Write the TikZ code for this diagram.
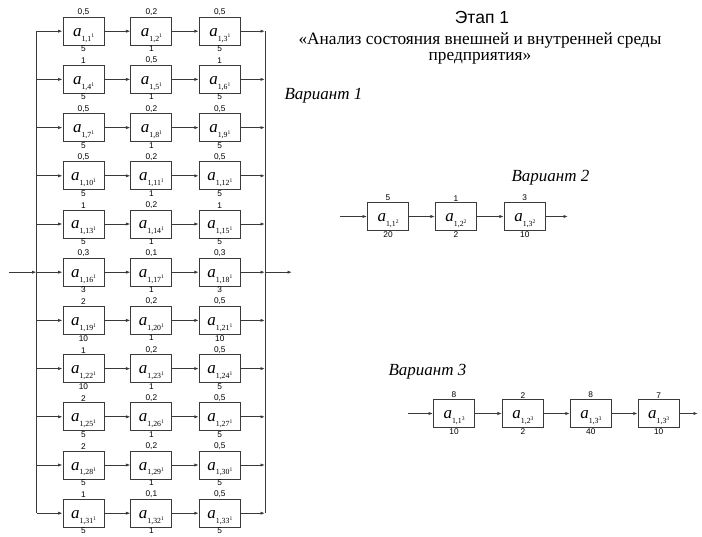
\documentclass[tikz,border=0pt]{standalone}
\usepackage{fontspec}
\setmainfont{Liberation Serif}
\setsansfont{Liberation Sans}
\usetikzlibrary{arrows.meta,positioning}
\definecolor{wire}{HTML}{3A3A3A}
\newcommand{\elem}[2]{\textit{a}\raisebox{-5pt}{\fontsize{7.8}{8}\selectfont #1\raisebox{3.2pt}{\fontsize{5.5}{5.5}\selectfont #2}}}

\begin{document}
\begin{tikzpicture}[x=1pt,y=-1pt,>={Latex[length=4.5pt,width=3.2pt]},
    blk/.style={draw=wire,line width=0.9pt,minimum width=41pt,minimum height=28pt,inner sep=0pt,text height=12pt,text depth=2pt,font=\fontsize{17}{18}\selectfont},
    num/.style={font=\sffamily\fontsize{8.3}{8.5}\selectfont,inner sep=0.2pt},
    wr/.style={draw=wire,line width=0.8pt}]
  \useasboundingbox (0,0) rectangle (702,537);
  % titles
  \node[font=\sffamily\fontsize{17.5}{18}\selectfont] (stage) at (482,17) {Этап 1};
  \node[font=\fontsize{17.3}{16.5}\selectfont,align=center] (aim) at (480,48.5) {«Анализ состояния внешней и внутренней среды\\предприятия»};
  \node[font=\itshape\fontsize{17}{17}\selectfont,anchor=west] (var1) at (281,96) {Вариант 1};
  \node[font=\itshape\fontsize{17}{17}\selectfont,anchor=west] (var2) at (508,178) {Вариант 2};
  \node[font=\itshape\fontsize{17}{17}\selectfont,anchor=west] (var3) at (385,372) {Вариант 3};

  % variant 1
  \coordinate (lbus) at (36.5,0);
  \coordinate (rbus) at (265,0);
  \foreach \r/\ta/\ba/\tb/\bb/\tc/\bc in {1/{0,5}/5/{0,2}/1/{0,5}/5, 2/1/5/{0,5}/1/1/5,
      3/{0,5}/5/{0,2}/1/{0,5}/5, 4/{0,5}/5/{0,2}/1/{0,5}/5, 5/1/5/{0,2}/1/1/5,
      6/{0,3}/3/{0,1}/1/{0,3}/3, 7/2/10/{0,2}/1/{0,5}/10, 8/1/10/{0,2}/1/{0,5}/5,
      9/2/5/{0,2}/1/{0,5}/5, 10/2/5/{0,2}/1/{0,5}/5, 11/1/5/{0,1}/1/{0,5}/5} {
    \pgfmathsetmacro{\yy}{31.2+(\r-1)*48.2}
    \pgfmathtruncatemacro{\ia}{3*\r-2}
    \pgfmathtruncatemacro{\ib}{3*\r-1}
    \pgfmathtruncatemacro{\ic}{3*\r}
    \node[blk] (b\r-1) at (83.5,\yy) {\elem{1,\ia}{1}};
    \node[blk,right=26pt of b\r-1] (b\r-2) {\elem{1,\ib}{1}};
    \node[blk,right=26.5pt of b\r-2] (b\r-3) {\elem{1,\ic}{1}};
    \node[num,above=0.6pt of b\r-1] (t\r-1) {\ta};
    \node[num,above=0.6pt of b\r-2] (t\r-2) {\tb};
    \node[num,above=0.6pt of b\r-3] (t\r-3) {\tc};
    \node[num,below=0pt of b\r-1] (u\r-1) {\ba};
    \node[num,below=0pt of b\r-2] (u\r-2) {\bb};
    \node[num,below=0pt of b\r-3] (u\r-3) {\bc};
    \draw[wr,->] (b\r-1.west -| lbus) -- (b\r-1.west);
    \draw[wr,->] (b\r-1) -- (b\r-2);
    \draw[wr,->] (b\r-2) -- (b\r-3);
    \draw[wr,->] (b\r-3.east) -- (b\r-3.east -| rbus);
  }
  \draw[wr] (b1-1.west -| lbus) -- (b11-1.west -| lbus);
  \draw[wr] (b1-3.east -| rbus) -- (b11-3.east -| rbus);
  \coordinate (in1) at (9,0);
  \coordinate (out1) at (292,0);
  \draw[wr,->] (b6-1.west -| in1) -- (b6-1.west -| lbus);
  \draw[wr,->] (b6-3.east -| rbus) -- (b6-3.east -| out1);

  % variant 2
  \node[blk] (c1) at (388,216.5) {\elem{1,1}{2}};
  \node[blk,right=26pt of c1] (c2) {\elem{1,2}{2}};
  \node[blk,right=27pt of c2] (c3) {\elem{1,3}{2}};
  \node[num,above=0.6pt of c1] (tc1) {5};
  \node[num,above=0.6pt of c2] (tc2) {1};
  \node[num,above=0.6pt of c3] (tc3) {3};
  \node[num,below=0pt of c1] (uc1) {20};
  \node[num,below=0pt of c2] (uc2) {2};
  \node[num,below=0pt of c3] (uc3) {10};
  \coordinate (in2) at (340,216.5);
  \coordinate (out2) at (568,216.5);
  \draw[wr,->] (in2) -- (c1);
  \draw[wr,->] (c1) -- (c2);
  \draw[wr,->] (c2) -- (c3);
  \draw[wr,->] (c3) -- (out2);

  % variant 3
  \node[blk] (d1) at (454,413.5) {\elem{1,1}{3}};
  \node[blk,right=27pt of d1] (d2) {\elem{1,2}{3}};
  \node[blk,right=26pt of d2] (d3) {\elem{1,3}{3}};
  \node[blk,right=26pt of d3] (d4) {\elem{1,3}{3}};
  \node[num,above=0.6pt of d1] (td1) {8};
  \node[num,above=0.6pt of d2] (td2) {2};
  \node[num,above=0.6pt of d3] (td3) {8};
  \node[num,above=0.6pt of d4] (td4) {7};
  \node[num,below=0pt of d1] (ud1) {10};
  \node[num,below=0pt of d2] (ud2) {2};
  \node[num,below=0pt of d3] (ud3) {40};
  \node[num,below=0pt of d4] (ud4) {10};
  \coordinate (in3) at (408,413.5);
  \coordinate (out3) at (698,413.5);
  \draw[wr,->] (in3) -- (d1);
  \draw[wr,->] (d1) -- (d2);
  \draw[wr,->] (d2) -- (d3);
  \draw[wr,->] (d3) -- (d4);
  \draw[wr,->] (d4) -- (out3);
\end{tikzpicture}
\end{document}
